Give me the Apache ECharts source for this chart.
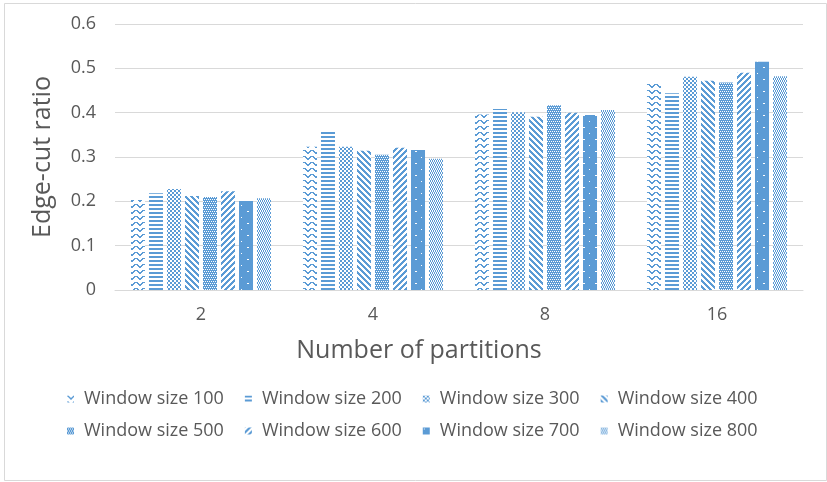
<!DOCTYPE html>
<html>
<head>
<meta charset="utf-8">
<script src="https://cdn.jsdelivr.net/npm/echarts@6/dist/echarts.min.js"></script>
<style>html,body{margin:0;padding:0;background:#fff}#c{width:827px;height:482px}</style>
</head>
<body>
<div id="c"></div>
<script>
var categories = ['2', '4', '8', '16'];
var seriesNames = ['Window size 100','Window size 200','Window size 300','Window size 400','Window size 500','Window size 600','Window size 700','Window size 800'];
var ws100 = [0.203, 0.323, 0.396, 0.468];
var ws200 = [0.218, 0.359, 0.408, 0.444];
var ws300 = [0.228, 0.323, 0.401, 0.481];
var ws400 = [0.212, 0.314, 0.391, 0.472];
var ws500 = [0.210, 0.305, 0.417, 0.468];
var ws600 = [0.223, 0.321, 0.400, 0.490];
var ws700 = [0.201, 0.316, 0.395, 0.515];
var ws800 = [0.207, 0.296, 0.406, 0.482];
var yTicks = [0, 0.1, 0.2, 0.3, 0.4, 0.5, 0.6];

var BLUE = '#5B9BD5';
function makePattern(rows, bg) {
  var h = rows.length, w = rows[0].length;
  var cv = document.createElement('canvas');
  cv.width = w; cv.height = h;
  var ctx = cv.getContext('2d');
  ctx.fillStyle = bg || '#ffffff';
  ctx.fillRect(0, 0, w, h);
  for (var y = 0; y < h; y++) for (var x = 0; x < w; x++) {
    var c = rows[y][x];
    if (c === 'X') { ctx.fillStyle = BLUE; ctx.fillRect(x, y, 1, 1); }
    else if (c === 'o') { ctx.fillStyle = '#ffffff'; ctx.fillRect(x, y, 1, 1); }
  }
  return { image: cv, repeat: 'repeat' };
}
var patterns = [
  // zigzag
  makePattern([
    'XX....XX',
    '.XX..XX.',
    '..XXXX..',
    '...XX...',
    '........',
    '........'
  ]),
  // horizontal lines
  makePattern(['XXXXXXXX','XXXXXXXX','........','........']),
  // small checker 2px
  makePattern(['XX..','XX..','..XX','..XX']),
  // wide downward diagonal "\"
  makePattern([
    'XXX...',
    '.XXX..',
    '..XXX.',
    '...XXX',
    'X...XX',
    'XX...X'
  ]),
  // dense grid with white holes
  makePattern(['XXXX','X.X.','XXXX','.X.X']),
  // wide upward diagonal "/"
  makePattern([
    '...XXX',
    '..XXX.',
    '.XXX..',
    'XXX...',
    'XX...X',
    'X...XX'
  ]),
  // solid with sparse white dots
  makePattern([
    'XXXXXXXXXXXX',
    'XoXXXXXXXXXX',
    'XXXXXXXXXXXX',
    'XXXXXXXXXXXX',
    'XXXXXXXXXXXX',
    'XXXXXXXXXXXX',
    'XXXXXXXXXXXX',
    'XXXXXXXooXXX',
    'XXXXXXXXXXXX',
    'XXXXXXXXXXXX',
    'XXXXXXXXXXXX',
    'XXXXXXXXXXXX'
  ], BLUE),
  // fine checker
  makePattern(['X.','X.','.X','.X'])
];

var allData = [ws100, ws200, ws300, ws400, ws500, ws600, ws700, ws800];
var FONT = '"Open Sans", sans-serif';
var TXT = '#595959';
var GRID = '#D9D9D9';

var series = allData.map(function(d, i){
  return {
    name: seriesNames[i],
    type: 'bar',
    data: d,
    barWidth: 14,
    barGap: '28.6%',
    itemStyle: { color: patterns[i] },
    emphasis: { disabled: true }
  };
});

function legendCfg(names, top) {
  return {
    data: names,
    left: 62, top: top,
    orient: 'horizontal',
    itemWidth: 7, itemHeight: 7,
    itemGap: 21,
    icon: 'rect',
    selectedMode: false,
    textStyle: { fontFamily: FONT, fontSize: 18, color: TXT, width: 143, padding: [0,0,0,5], overflow: 'none' }
  };
}

var chart = echarts.init(document.getElementById('c'), null, { renderer: 'canvas' });
chart.setOption({
  animation: false,
  backgroundColor: '#ffffff',
  grid: { left: 115, right: 24, top: 24, bottom: 192, containLabel: false },
  legend: [ legendCfg(seriesNames.slice(0,4), 385), legendCfg(seriesNames.slice(4), 417) ],
  xAxis: {
    type: 'category',
    data: categories,
    name: 'Number of partitions',
    nameLocation: 'middle',
    nameGap: 48,
    nameTextStyle: { fontFamily: FONT, fontSize: 25, color: TXT, verticalAlign: 'top', padding: [0, 80, 0, 0] },
    axisLine: { show: true, lineStyle: { color: GRID, width: 1 } },
    axisTick: { show: false },
    axisLabel: { fontFamily: FONT, fontSize: 18, color: TXT, margin: 16 }
  },
  yAxis: {
    type: 'value',
    min: yTicks[0], max: yTicks[yTicks.length-1], interval: 0.1,
    name: 'Edge-cut ratio',
    nameLocation: 'middle',
    nameGap: 60,
    nameTextStyle: { fontFamily: FONT, fontSize: 25, color: TXT },
    axisLine: { show: false },
    axisTick: { show: false },
    splitLine: { lineStyle: { color: GRID, width: 1 } },
    axisLabel: { fontFamily: FONT, fontSize: 18, color: TXT, margin: 19,
      formatter: function(v){ return String(Math.round(v*10)/10); } }
  },
  graphic: [{
    type: 'rect', left: 2, top: 1, silent: true,
    shape: { width: 822, height: 477 },
    style: { fill: null, stroke: GRID, lineWidth: 1 }
  }],
  series: series
});
</script>
</body>
</html>
